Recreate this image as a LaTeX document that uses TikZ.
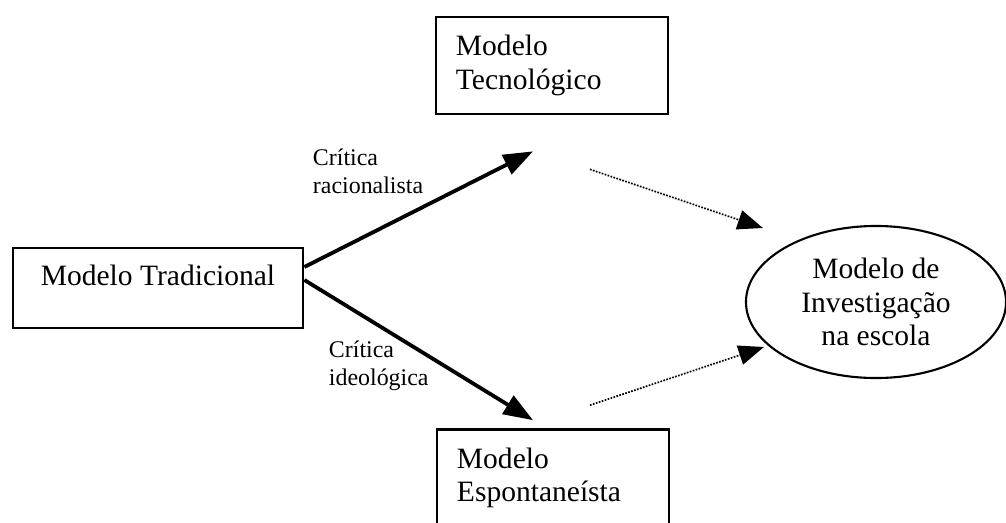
\documentclass[tikz,border=0pt]{standalone}
\usepackage{fontspec}
\setmainfont{Liberation Serif}
\usetikzlibrary{positioning, arrows.meta, shapes.geometric}
\newcommand{\boxtxt}{\fontsize{21}{23.8}\selectfont}
\newcommand{\crittxt}{\fontsize{17}{19.9}\selectfont}

\begin{document}
\begin{tikzpicture}[x=0.025cm, y=-0.025cm,
  modelbox/.style={draw, line width=1.9pt, font=\boxtxt, align=left,
    text width=4.8cm, inner xsep=0.5cm, minimum height=2.425cm},
  tradbox/.style={draw, line width=1.9pt, font=\boxtxt, align=center,
    minimum width=7.25cm, minimum height=2cm, text depth=0.66cm},
  oval/.style={draw, ellipse, line width=1.5pt, font=\boxtxt, align=center,
    minimum width=6.5cm, minimum height=3.8cm, inner sep=0pt},
  crit/.style={font=\crittxt, align=left, anchor=west},
  solidarr/.style={line width=2.7pt, -{Triangle[length=21pt, width=15pt]}},
  dotarr/.style={line width=1.2pt, densely dotted, -{Triangle[length=18pt, width=14pt]}}]
  \useasboundingbox (0,0) rectangle (1006,522);

  % --- models ---
  \node[tradbox] (trad) at (158,288) {Modelo Tradicional};
  \node[modelbox] (tec) at (552,65.5) {Modelo\\Tecnológico};
  \node[modelbox] (esp) at (553,478) {Modelo\\Espontaneísta};
  \node[oval] (inv) at (876,302) {Modelo de\\Investigação\\na escola};

  % --- arrow ends ---
  \coordinate (tradup) at ([shift={(0,-21)}]trad.east);
  \coordinate (traddown) at ([shift={(0,-8)}]trad.east);
  \coordinate (tecin) at ([shift={(-19,36)}]tec.south);
  \coordinate (espin) at ([shift={(-20,-8)}]esp.north);
  \coordinate (tecout) at ([shift={(38,54)}]tec.south);
  \coordinate (espout) at ([shift={(37,-23)}]esp.north);
  \coordinate (invtop) at ([shift={(18,-74)}]inv.west);
  \coordinate (invbot) at ([shift={(19,45)}]inv.west);

  % --- critiques ---
  \draw[solidarr] (tradup) -- (tecin);
  \draw[solidarr] (traddown) -- (espin);
  \node[crit] (critrac) at (308,171) {Crítica\\racionalista};
  \node[crit] (critideo) at (324,366) {Crítica\\ideológica};

  % --- towards investigation ---
  \draw[dotarr] (tecout) -- (invtop);
  \draw[dotarr] (espout) -- (invbot);
\end{tikzpicture}
\end{document}
